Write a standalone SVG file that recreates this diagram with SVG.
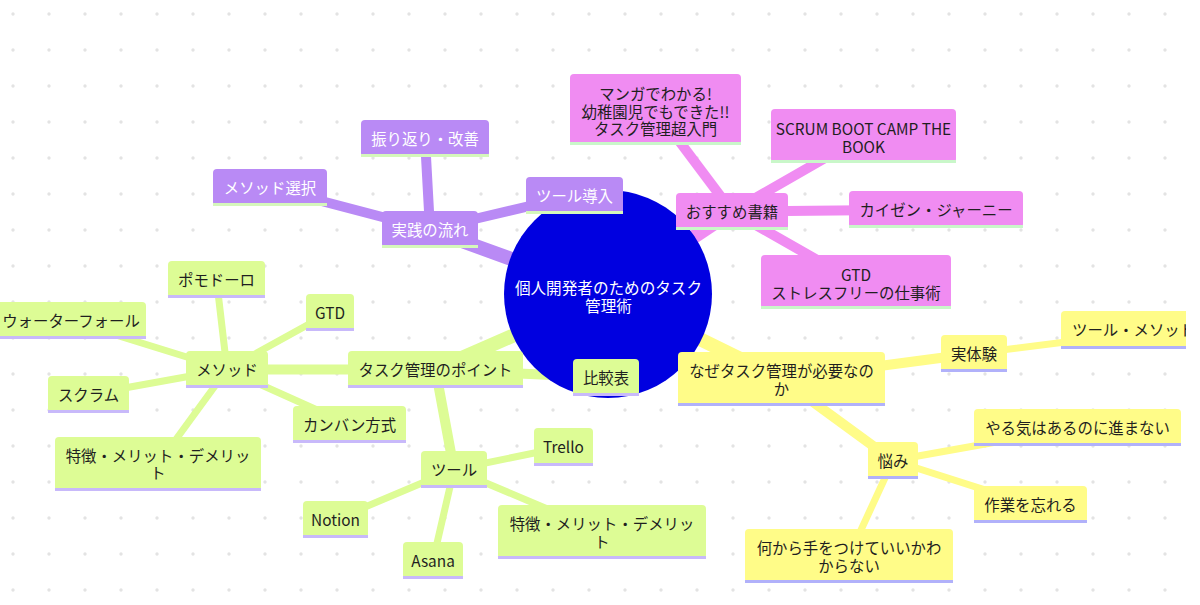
<svg xmlns="http://www.w3.org/2000/svg" width="1200" height="605" viewBox="0 0 1200 605">
<defs>
<pattern id="dots" patternUnits="userSpaceOnUse" x="-5" y="-4" width="36" height="36">
<circle cx="18" cy="18" r="1.7" fill="#e3e3e3"/>
</pattern>
<clipPath id="view"><rect x="0" y="0" width="1186" height="605"/></clipPath>
<style>
.pu{fill:#b98af5}.pk{fill:#f08cf2}.gr{fill:#ddfc95}.ye{fill:#fffc88}
.spu{fill:#d5f7bb}.spk{fill:#c9f7c9}.sgr{fill:#c8b9fa}.sye{fill:#b1b1fa}
.t{font-family:"Noto Sans CJK JP","Noto Sans",sans-serif;font-size:15.4px;fill:#1f1f1f;text-anchor:middle;dominant-baseline:central}
.tw{fill:#ffffff}
.l{fill:none;stroke-linecap:round}
.L1{stroke-width:14}.L2{stroke-width:10}.L3{stroke-width:7}
.cpu{stroke:#b98af5}.cpk{stroke:#f08cf2}.cgr{stroke:#ddfc95}.cye{stroke:#fffc88}
</style>
</defs>
<rect x="0" y="0" width="1200" height="605" fill="#ffffff"/>
<g clip-path="url(#view)">
<rect x="0" y="0" width="1200" height="605" fill="url(#dots)"/>
<g id="connectors" class="l">
<line class="L1 cpu" x1="608" y1="294" x2="430" y2="229.5"/>
<line class="L1 cpk" x1="608" y1="294" x2="732" y2="211.5"/>
<line class="L1 cgr" x1="608" y1="294" x2="435.5" y2="369.5"/>
<line class="L1 cye" x1="608" y1="294" x2="781.5" y2="379"/>
<line class="L2 cpu" x1="430" y1="229.5" x2="425" y2="138.5"/>
<line class="L2 cpu" x1="430" y1="229.5" x2="270" y2="187.5"/>
<line class="L2 cpu" x1="430" y1="229.5" x2="574.5" y2="195.5"/>
<line class="L2 cpk" x1="732" y1="211.5" x2="655.5" y2="109.5"/>
<line class="L2 cpk" x1="732" y1="211.5" x2="863.5" y2="136"/>
<line class="L2 cpk" x1="732" y1="211.5" x2="936" y2="209.5"/>
<line class="L2 cpk" x1="732" y1="211.5" x2="856" y2="282"/>
<line class="L2 cye" x1="781.5" y1="379" x2="974" y2="353.5"/>
<line class="L2 cye" x1="781.5" y1="379" x2="893" y2="460.5"/>
<line class="L2 cgr" x1="435.5" y1="369.5" x2="606" y2="377.5"/>
<line class="L2 cgr" x1="435.5" y1="369.5" x2="227" y2="369.5"/>
<line class="L2 cgr" x1="435.5" y1="369.5" x2="454" y2="469.5"/>
<line class="L3 cye" x1="974" y1="353.5" x2="1161" y2="330"/>
<line class="L3 cye" x1="893" y1="460.5" x2="1077.5" y2="427.5"/>
<line class="L3 cye" x1="893" y1="460.5" x2="1030.5" y2="504.5"/>
<line class="L3 cye" x1="893" y1="460.5" x2="849" y2="556"/>
<line class="L3 cgr" x1="227" y1="369.5" x2="216.5" y2="279.5"/>
<line class="L3 cgr" x1="227" y1="369.5" x2="69" y2="320.5"/>
<line class="L3 cgr" x1="227" y1="369.5" x2="330" y2="312.5"/>
<line class="L3 cgr" x1="227" y1="369.5" x2="88.5" y2="394.5"/>
<line class="L3 cgr" x1="227" y1="369.5" x2="349.5" y2="424.5"/>
<line class="L3 cgr" x1="227" y1="369.5" x2="158" y2="464"/>
<line class="L3 cgr" x1="454" y1="469.5" x2="563.5" y2="447"/>
<line class="L3 cgr" x1="454" y1="469.5" x2="335.5" y2="519.5"/>
<line class="L3 cgr" x1="454" y1="469.5" x2="433" y2="560.5"/>
<line class="L3 cgr" x1="454" y1="469.5" x2="602" y2="532"/>
</g>
<g id="n-root">
<circle cx="608" cy="294" r="104" fill="#0000e0"/>
<text class="t tw" x="608.5" style="font-size:15.6px"><tspan x="608.5" y="287">個人開発者のためのタスク</tspan><tspan x="608.5" y="304.5">管理術</tspan></text>
</g>
<!-- purple -->
<g id="n-jissen"><rect class="pu" x="382" y="211" width="96" height="37" rx="4"/><rect class="spu" x="382" y="245" width="96" height="3"/><text class="t tw" x="430" y="228.5">実践の流れ</text></g>
<g id="n-furikaeri"><rect class="pu" x="361" y="120" width="128" height="37" rx="4"/><rect class="spu" x="361" y="154" width="128" height="3"/><text class="t tw" x="425" y="137.5">振り返り・改善</text></g>
<g id="n-method-sentaku"><rect class="pu" x="213" y="169" width="114" height="37" rx="4"/><rect class="spu" x="213" y="203" width="114" height="3"/><text class="t tw" x="270" y="186.5">メソッド選択</text></g>
<g id="n-tool-dounyu"><rect class="pu" x="526" y="177" width="97" height="37" rx="4"/><rect class="spu" x="526" y="211" width="97" height="3"/><text class="t tw" x="574.5" y="194.5">ツール導入</text></g>
<!-- pink -->
<g id="n-osusume"><rect class="pk" x="676" y="193" width="112" height="37" rx="4"/><rect class="spk" x="676" y="227" width="112" height="3"/><text class="t" x="732" y="210.5">おすすめ書籍</text></g>
<g id="n-manga"><rect class="pk" x="570" y="74" width="171" height="71" rx="4"/><rect class="spk" x="570" y="142" width="171" height="3"/><text class="t" x="655.5"><tspan x="655.5" y="93">マンガでわかる!</tspan><tspan x="655.5" y="110.6">幼稚園児でもできた!!</tspan><tspan x="655.5" y="128.2">タスク管理超入門</tspan></text></g>
<g id="n-scrum"><rect class="pk" x="771" y="109" width="185" height="54" rx="4"/><rect class="spk" x="771" y="160" width="185" height="3"/><text class="t" x="863.5"><tspan x="863.5" y="128">SCRUM BOOT CAMP THE</tspan><tspan x="863.5" y="145.6">BOOK</tspan></text></g>
<g id="n-kaizen"><rect class="pk" x="849" y="191" width="174" height="37" rx="4"/><rect class="spk" x="849" y="225" width="174" height="3"/><text class="t" x="936" y="208.5">カイゼン・ジャーニー</text></g>
<g id="n-gtd-book"><rect class="pk" x="761" y="255" width="190" height="54" rx="4"/><rect class="spk" x="761" y="306" width="190" height="3"/><text class="t" x="856"><tspan x="856" y="274">GTD</tspan><tspan x="856" y="291.6">ストレスフリーの仕事術</tspan></text></g>
<!-- yellow -->
<g id="n-naze"><rect class="ye" x="678" y="352" width="207" height="54" rx="4"/><rect class="sye" x="678" y="403" width="207" height="3"/><text class="t" x="781.5"><tspan x="781.5" y="370">なぜタスク管理が必要なの</tspan><tspan x="781.5" y="387.6">か</tspan></text></g>
<g id="n-jittaiken"><rect class="ye" x="941" y="335" width="66" height="37" rx="4"/><rect class="sye" x="941" y="369" width="66" height="3"/><text class="t" x="974" y="352.5">実体験</text></g>
<g id="n-tool-method"><rect class="ye" x="1061" y="311" width="200" height="38" rx="4"/><rect class="sye" x="1061" y="346" width="200" height="3"/><text class="t" x="1072" y="329" style="text-anchor:start">ツール・メソッド</text></g>
<g id="n-nayami"><rect class="ye" x="868" y="442" width="50" height="37" rx="4"/><rect class="sye" x="868" y="476" width="50" height="3"/><text class="t" x="893" y="459.5">悩み</text></g>
<g id="n-yaruki"><rect class="ye" x="974" y="409" width="207" height="37" rx="4"/><rect class="sye" x="974" y="443" width="207" height="3"/><text class="t" x="1077.5" y="426.5">やる気はあるのに進まない</text></g>
<g id="n-wasureru"><rect class="ye" x="974" y="486" width="113" height="37" rx="4"/><rect class="sye" x="974" y="520" width="113" height="3"/><text class="t" x="1030.5" y="503.5">作業を忘れる</text></g>
<g id="n-nanikara"><rect class="ye" x="745" y="529" width="208" height="54" rx="4"/><rect class="sye" x="745" y="580" width="208" height="3"/><text class="t" x="849"><tspan x="849" y="547">何から手をつけていいかわ</tspan><tspan x="849" y="564.6">からない</tspan></text></g>
<!-- green -->
<g id="n-point"><rect class="gr" x="348" y="351" width="175" height="37" rx="4"/><rect class="sgr" x="348" y="385" width="175" height="3"/><text class="t" x="435.5" y="368.5">タスク管理のポイント</text></g>
<g id="n-hikaku"><rect class="gr" x="573" y="359" width="66" height="37" rx="4"/><rect class="sgr" x="573" y="393" width="66" height="3"/><text class="t" x="606" y="376.5">比較表</text></g>
<g id="n-method"><rect class="gr" x="186" y="351" width="82" height="37" rx="4"/><rect class="sgr" x="186" y="385" width="82" height="3"/><text class="t" x="227" y="368.5">メソッド</text></g>
<g id="n-pomodoro"><rect class="gr" x="168" y="261" width="97" height="37" rx="4"/><rect class="sgr" x="168" y="295" width="97" height="3"/><text class="t" x="216.5" y="278.5">ポモドーロ</text></g>
<g id="n-waterfall"><rect class="gr" x="-8" y="302" width="154" height="37" rx="4"/><rect class="sgr" x="-8" y="336" width="154" height="3"/><text class="t" x="71" y="319.5">ウォーターフォール</text></g>
<g id="n-gtd"><rect class="gr" x="306" y="294" width="48" height="37" rx="4"/><rect class="sgr" x="306" y="328" width="48" height="3"/><text class="t" x="330" y="311.5">GTD</text></g>
<g id="n-scrum-m"><rect class="gr" x="48" y="376" width="81" height="37" rx="4"/><rect class="sgr" x="48" y="410" width="81" height="3"/><text class="t" x="88.5" y="393.5">スクラム</text></g>
<g id="n-kanban"><rect class="gr" x="293" y="406" width="113" height="37" rx="4"/><rect class="sgr" x="293" y="440" width="113" height="3"/><text class="t" x="349.5" y="423.5">カンバン方式</text></g>
<g id="n-tokucho-m"><rect class="gr" x="55" y="437" width="206" height="54" rx="4"/><rect class="sgr" x="55" y="488" width="206" height="3"/><text class="t" x="158"><tspan x="158" y="454.5">特徴・メリット・デメリッ</tspan><tspan x="158" y="472.1">ト</tspan></text></g>
<g id="n-tool"><rect class="gr" x="421" y="451" width="66" height="37" rx="4"/><rect class="sgr" x="421" y="485" width="66" height="3"/><text class="t" x="454" y="468.5">ツール</text></g>
<g id="n-trello"><rect class="gr" x="534" y="428" width="59" height="38" rx="4"/><rect class="sgr" x="534" y="463" width="59" height="3"/><text class="t" x="563.5" y="446">Trello</text></g>
<g id="n-notion"><rect class="gr" x="303" y="501" width="65" height="37" rx="4"/><rect class="sgr" x="303" y="535" width="65" height="3"/><text class="t" x="335.5" y="518.5">Notion</text></g>
<g id="n-asana"><rect class="gr" x="403" y="542" width="60" height="37" rx="4"/><rect class="sgr" x="403" y="576" width="60" height="3"/><text class="t" x="433" y="559.5">Asana</text></g>
<g id="n-tokucho-t"><rect class="gr" x="498" y="505" width="208" height="54" rx="4"/><rect class="sgr" x="498" y="556" width="208" height="3"/><text class="t" x="602"><tspan x="602" y="523">特徴・メリット・デメリッ</tspan><tspan x="602" y="540.6">ト</tspan></text></g>
</g>
</svg>
